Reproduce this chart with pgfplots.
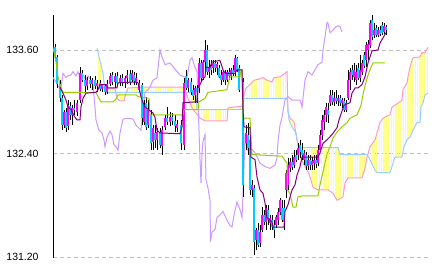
\documentclass[border=0pt]{standalone}
\usepackage{pgfplots}
\pgfplotsset{compat=1.18}
\usepackage{pgfplotstable}
\usepgfplotslibrary{fillbetween}
\usetikzlibrary{patterns.meta}
\usepackage{fontspec}
\setmainfont{Liberation Sans}
\definecolor{cup}{HTML}{FF00FF}
\definecolor{cdn}{HTML}{00CCFF}
\definecolor{tenkan}{HTML}{800080}
\definecolor{kijun}{HTML}{99CC00}
\definecolor{chikou}{HTML}{CC99FF}
\definecolor{spana}{HTML}{FF99CC}
\definecolor{spanb}{HTML}{99CCFF}
\definecolor{cloud}{HTML}{FFFF88}
\definecolor{gridc}{HTML}{C0C0C0}

\pgfplotstableread{
x o h l c
55 133.63 133.67 133.48 133.52
57 133.52 133.54 133.16 133.21
60 133.21 133.25 133.00 133.04
62 133.04 133.08 132.67 132.73
64 132.73 132.91 132.70 132.88
66 132.88 132.93 132.65 132.70
68 132.72 133.02 132.67 132.96
70 132.95 133.00 132.79 132.85
72 132.85 132.96 132.73 132.93
74 132.93 133.02 132.85 132.91
77 132.88 133.02 132.84 132.99
80 133.02 133.40 132.99 133.33
82 133.33 133.37 133.23 133.25
85 133.25 133.31 133.10 133.18
87 133.18 133.29 133.14 133.25
90 133.25 133.30 133.16 133.21
92 133.21 133.28 133.14 133.25
95 133.25 133.30 133.15 133.18
97 133.18 133.25 133.11 133.22
100 133.22 133.25 133.13 133.15
102 133.15 133.21 133.11 133.20
105 133.18 133.21 133.08 133.11
107 133.11 133.25 133.09 133.21
110 133.21 133.33 133.18 133.30
112 133.31 133.35 133.20 133.23
115 133.23 133.33 133.16 133.30
117 133.30 133.35 133.18 133.22
120 133.22 133.31 133.18 133.28
122 133.28 133.32 133.18 133.23
125 133.23 133.30 133.16 133.28
127 133.28 133.37 133.21 133.31
130 133.32 133.37 133.20 133.23
132 133.25 133.37 133.23 133.33
134 133.31 133.35 133.20 133.24
136 133.23 133.33 133.20 133.28
139 133.14 133.25 133.11 133.22
142 133.20 133.22 132.73 132.81
144 132.77 133.02 132.73 132.96
146 132.99 133.06 132.67 132.71
148 132.73 133.02 132.70 132.91
151 132.85 132.91 132.44 132.52
153 132.54 132.73 132.44 132.70
155 132.64 132.73 132.47 132.56
157 132.56 132.70 132.44 132.65
160 132.65 132.70 132.47 132.50
162 132.49 132.72 132.39 132.67
165 132.71 132.85 132.67 132.81
167 132.81 132.94 132.73 132.77
170 132.77 132.88 132.72 132.82
172 132.82 132.87 132.73 132.78
175 132.78 132.85 132.65 132.72
177 132.70 132.79 132.65 132.74
181 132.73 132.79 132.44 132.52
184 132.50 133.28 132.44 133.22
186 133.30 133.37 133.14 133.16
188 133.16 133.28 133.11 133.25
191 133.23 133.28 133.08 133.11
193 133.14 133.19 133.02 133.07
195 133.08 133.18 132.99 133.16
197 133.16 133.19 132.99 133.11
199 133.16 133.51 133.10 133.45
201 133.45 133.48 133.23 133.28
203 133.28 133.48 133.25 133.46
205 133.46 133.72 133.37 133.60
207 133.60 133.66 133.31 133.35
209 133.35 133.48 133.28 133.39
211 133.41 133.48 133.31 133.37
213 133.39 133.48 133.33 133.45
215 133.45 133.48 133.35 133.39
217 133.39 133.46 133.31 133.44
219 133.39 133.43 133.28 133.29
221 133.31 133.37 133.20 133.25
223 133.25 133.37 133.23 133.35
225 133.32 133.37 133.20 133.25
227 133.25 133.37 133.23 133.35
229 133.35 133.39 133.25 133.30
231 133.30 133.39 133.25 133.37
233 133.37 133.43 133.30 133.33
235 133.35 133.54 133.30 133.51
237 133.51 133.52 133.35 133.37
239 133.39 133.43 133.11 133.14
243 133.23 133.28 131.90 132.04
246 132.52 132.73 132.44 132.64
248 132.62 132.76 132.39 132.47
250 132.56 132.62 131.92 131.98
252 131.98 132.10 131.90 132.04
254 132.00 132.04 131.23 131.38
256 131.40 131.54 131.28 131.52
258 131.52 131.60 131.32 131.34
260 131.37 131.57 131.32 131.49
262 131.52 131.78 131.49 131.69
264 131.69 131.75 131.57 131.61
266 131.61 131.81 131.52 131.77
268 131.75 131.81 131.57 131.63
270 131.60 131.69 131.52 131.66
272 131.63 131.69 131.52 131.55
274 131.57 131.63 131.42 131.52
276 131.57 131.69 131.54 131.67
278 131.63 131.77 131.57 131.72
280 131.72 131.89 131.69 131.86
282 131.77 131.86 131.61 131.63
284 131.77 131.86 131.52 131.61
286 131.98 132.21 131.89 132.18
288 132.04 132.35 131.98 132.27
290 132.23 132.35 132.19 132.30
292 132.30 132.39 132.21 132.25
294 132.27 132.44 132.23 132.36
296 132.39 132.44 132.30 132.33
298 132.39 132.52 132.33 132.47
300 132.50 132.56 132.35 132.42
302 132.44 132.52 132.33 132.39
304 132.33 132.44 132.27 132.41
306 132.39 132.42 132.21 132.26
308 132.26 132.39 132.21 132.33
310 132.33 132.39 132.21 132.27
312 132.27 132.36 132.21 132.32
314 132.29 132.39 132.21 132.33
316 132.33 132.39 132.23 132.28
318 132.29 132.50 132.26 132.44
320 132.44 132.67 132.42 132.62
322 132.62 132.85 132.56 132.79
324 132.77 132.91 132.67 132.85
326 132.85 132.99 132.77 132.94
328 132.91 132.99 132.76 132.85
330 132.99 133.14 132.95 133.08
332 133.08 133.14 132.96 133.00
334 133.00 133.11 132.95 133.04
336 133.04 133.14 132.97 133.01
338 133.01 133.08 132.95 133.04
340 133.04 133.08 132.95 132.99
342 132.99 133.04 132.93 133.02
344 133.01 133.04 132.88 132.91
346 132.91 133.02 132.88 132.99
348 133.04 133.37 133.02 133.25
350 133.25 133.39 133.14 133.35
352 133.37 133.43 133.25 133.31
354 133.29 133.45 133.23 133.37
356 133.25 133.43 133.20 133.35
358 133.39 133.45 133.25 133.28
360 133.28 133.54 133.23 133.37
362 133.35 133.48 133.31 133.45
364 133.54 133.58 133.39 133.41
366 133.48 133.69 133.40 133.66
368 133.60 133.72 133.48 133.67
370 133.66 133.95 133.62 133.91
372 133.95 134.00 133.72 133.75
374 133.77 133.91 133.74 133.83
376 133.85 133.89 133.75 133.77
378 133.77 133.87 133.75 133.83
380 133.83 133.88 133.76 133.79
382 133.89 133.92 133.77 133.80
384 133.81 133.91 133.79 133.88
386 133.87 133.89 133.77 133.83
}\candles

\begin{document}
\begin{tikzpicture}
\begin{axis}[
  at={(0,0)}, anchor=south west,
  scale only axis, width=377bp, height=243bp,
  xmin=53, xmax=430, ymin=131.192, ymax=134.005,
  axis x line=none, axis y line*=left,
  axis line style={black, line width=0.9bp},
  ytick={131.2,132.4,133.6},
  major tick length=0pt,
  ymajorgrids,
  grid style={gridc, line width=0.9bp, dash pattern=on 4bp off 3bp},
  /pgf/number format/assume math mode=true,
  yticklabel style={font=\fontsize{10.5}{12}\selectfont, xshift=-11bp,
    /pgf/number format/.cd, fixed, fixed zerofill, precision=2},
]
% Senkou span A and B (cloud)
\addplot [name path=sa, draw=none, forget plot] coordinates {
(97,133.20) (105,133.16) (115,133.15) (117,133.04) (120,133.01) (124,133.01) (126,133.10) (128,133.16) (145,133.17) (183,133.17) (185,133.14) (188,133.04) (192,132.93) (196,132.87) (200,132.81) (205,132.78) (227,132.78) (228,132.93) (242,132.95) (244,133.08) (246,133.16) (250,133.20) (254,133.25) (258,133.26) (263,133.28) (267,133.25) (272,133.23) (274,133.28) (280,133.29) (285,133.33) (287,133.35) (288,132.88) (290,132.81) (294,132.77) (296,132.62) (299,132.44) (301,132.35) (303,132.29) (305,132.25) (308,132.19) (310,132.13) (313,132.01) (318,131.98) (328,131.98) (333,131.94) (337,131.86) (343,131.90) (345,132.06) (348,132.12) (362,132.12) (365,132.23) (367,132.36) (370,132.48) (375,132.56) (377,132.64) (380,132.76) (383,132.81) (390,132.85) (392,132.94) (400,133.00) (402,133.02) (403,133.14) (407,133.22) (408,133.29) (410,133.40) (412,133.48) (413,133.51) (420,133.52) (422,133.57) (425,133.57) (428,133.63)
};
\addplot [name path=sb, draw=none, forget plot] coordinates {
(97,133.62) (103,133.33) (105,133.14) (106,133.11) (196,133.11) (197,132.91) (243,132.91) (244,133.04) (287,133.04) (289,132.79) (292,132.71) (296,132.64) (298,132.50) (300,132.47) (338,132.47) (340,132.39) (367,132.39) (370,132.33) (375,132.21) (377,132.18) (390,132.18) (393,132.29) (395,132.36) (402,132.36) (404,132.48) (407,132.56) (410,132.59) (413,132.67) (417,132.76) (420,132.76) (421,132.94) (423,132.99) (425,133.08) (428,133.10)
};
\addplot [draw=none, pattern={Lines[angle=90, distance=2.4bp, line width=1.2bp]}, pattern color=cloud, forget plot] fill between [of=sa and sb];
\addplot [spana, line width=1bp, forget plot] coordinates {
(97,133.20) (105,133.16) (115,133.15) (117,133.04) (120,133.01) (124,133.01) (126,133.10) (128,133.16) (145,133.17) (183,133.17) (185,133.14) (188,133.04) (192,132.93) (196,132.87) (200,132.81) (205,132.78) (227,132.78) (228,132.93) (242,132.95) (244,133.08) (246,133.16) (250,133.20) (254,133.25) (258,133.26) (263,133.28) (267,133.25) (272,133.23) (274,133.28) (280,133.29) (285,133.33) (287,133.35) (288,132.88) (290,132.81) (294,132.77) (296,132.62) (299,132.44) (301,132.35) (303,132.29) (305,132.25) (308,132.19) (310,132.13) (313,132.01) (318,131.98) (328,131.98) (333,131.94) (337,131.86) (343,131.90) (345,132.06) (348,132.12) (362,132.12) (365,132.23) (367,132.36) (370,132.48) (375,132.56) (377,132.64) (380,132.76) (383,132.81) (390,132.85) (392,132.94) (400,133.00) (402,133.02) (403,133.14) (407,133.22) (408,133.29) (410,133.40) (412,133.48) (413,133.51) (420,133.52) (422,133.57) (425,133.57) (428,133.63)
};
\addplot [spanb, line width=1bp, forget plot] coordinates {
(97,133.62) (103,133.33) (105,133.14) (106,133.11) (196,133.11) (197,132.91) (243,132.91) (244,133.04) (287,133.04) (289,132.79) (292,132.71) (296,132.64) (298,132.50) (300,132.47) (338,132.47) (340,132.39) (367,132.39) (370,132.33) (375,132.21) (377,132.18) (390,132.18) (393,132.29) (395,132.36) (402,132.36) (404,132.48) (407,132.56) (410,132.59) (413,132.67) (417,132.76) (420,132.76) (421,132.94) (423,132.99) (425,133.08) (428,133.10)
};
% Chikou span
\addplot [chikou, line width=1bp, forget plot] coordinates {
(53,133.28) (56,133.23) (58,133.18) (61,133.16) (63,133.33) (66,133.28) (68,133.30) (71,133.31) (73,133.35) (76,133.30) (78,133.35) (80,133.28) (83,133.31) (86,133.25) (88,133.30) (91,133.25) (93,133.21) (95,132.94) (96,132.79) (99,132.67) (102,132.64) (104,132.56) (105,132.48) (107,132.59) (110,132.66) (112,132.62) (114,132.50) (116,132.48) (118,132.44) (120,132.64) (123,132.80) (128,132.81) (133,132.80) (136,132.73) (141,132.67) (143,132.91) (145,133.11) (148,133.14) (150,133.17) (153,133.25) (157,133.28) (160,133.60) (162,133.52) (165,133.43) (170,133.45) (177,133.35) (180,133.31) (184,133.29) (187,133.28) (190,133.48) (192,133.51) (195,133.40) (197,133.35) (198,133.02) (200,132.33) (201,132.06) (202,132.39) (203,132.54) (205,132.62) (206,132.10) (208,132.00) (210,131.86) (210.5,131.38) (212,131.49) (215,131.52) (217,131.66) (220,131.69) (223,131.73) (227,131.63) (230,131.57) (232,131.55) (234,131.69) (237,131.84) (240,131.75) (242,131.66) (243,131.92) (244,132.23) (245,132.62) (247,132.44) (250,132.47) (253,132.44) (256,132.39) (260,132.29) (265,132.25) (270,132.23) (275,132.27) (277,132.35) (278,132.54) (280,132.73) (282,132.82) (285,133.02) (288,133.06) (292,133.02) (300,133.02) (302,132.94) (305,133.25) (308,133.35) (312,133.31) (315,133.37) (318,133.43) (322,133.46) (323,133.60) (325,133.75) (327,133.92) (328,133.91) (330,133.80) (333,133.83) (336,133.87) (338,133.88) (340,133.87) (342,133.81)
};
% Candles: wicks, rising bodies, falling bodies
\addplot [draw=none, mark=none, forget plot,
  error bars/.cd, y dir=plus, y explicit, error mark=none,
  error bar style={draw=black, line width=1bp}]
  table [x=x, y=l, y error expr=\thisrow{h}-\thisrow{l}] {\candles};
\addplot [draw=none, mark=none, forget plot,
  error bars/.cd, y dir=plus, y explicit, error mark=none,
  error bar style={draw=cup, line width=2.5bp}]
  table [x=x, y=o, y error expr={max(\thisrow{c}-\thisrow{o},0)}] {\candles};
\addplot [draw=none, mark=none, forget plot,
  error bars/.cd, y dir=plus, y explicit, error mark=none,
  error bar style={draw=cdn, line width=2.5bp}]
  table [x=x, y=c, y error expr={max(\thisrow{o}-\thisrow{c},0)}] {\candles};
% Kijun
\addplot [kijun, line width=1bp, forget plot] coordinates {
(53,133.63) (55,133.52) (56,133.46) (58,133.29) (60,133.20) (61,133.16) (63,133.11) (96,133.11) (98,133.06) (101,133.00) (113,133.00) (116,133.03) (118,133.08) (136,133.08) (138,133.06) (149,133.04) (150,132.85) (183,132.85) (184,132.91) (198,132.91) (199,133.00) (205,133.04) (208,133.11) (227,133.14) (229,133.25) (230,133.29) (240,133.29) (241,133.37) (242,133.37) (243,132.81) (250,132.81) (252,132.39) (282,132.37) (287,132.29) (287.5,131.98) (290,131.94) (293,131.78) (296,131.78) (298,131.90) (302,131.91) (318,131.91) (320,132.04) (323,132.19) (327,132.39) (330,132.48) (333,132.58) (337,132.65) (342,132.71) (347,132.76) (350,132.81) (357,132.85) (361,132.96) (364,133.14) (368,133.31) (371,133.40) (373,133.45) (385,133.45)
};
% Tenkan
\addplot [tenkan, line width=1bp, forget plot] coordinates {
(60,133.17) (63,133.10) (66,133.02) (68,132.94) (71,132.91) (75,132.82) (77,132.79) (80,132.79) (81,132.94) (83,133.04) (86,133.10) (96,133.11) (98,133.14) (100,133.20) (106,133.20) (108,133.16) (117,133.16) (118,133.22) (135,133.23) (138,133.22) (141,133.06) (143,132.99) (145,132.94) (153,132.87) (155,132.82) (157,132.67) (160,132.64) (180,132.63) (182,132.71) (183,132.99) (197,133.00) (198,133.16) (200,133.20) (202,133.25) (205,133.29) (206,133.40) (210,133.40) (212,133.46) (220,133.48) (223,133.37) (225,133.33) (235,133.33) (237,133.37) (242,133.37) (243,132.91) (244,132.71) (250,132.70) (251,132.36) (255,132.33) (257,132.13) (260,131.98) (263,131.94) (265,131.83) (267,131.66) (272,131.61) (273,131.55) (284,131.55) (285,131.73) (288,131.81) (292,131.98) (295,132.04) (297,132.15) (300,132.25) (302,132.36) (318,132.36) (320,132.41) (323,132.52) (327,132.56) (332,132.62) (337,132.70) (339,132.79) (344,132.96) (350,132.99) (352,133.10) (355,133.16) (358,133.16) (362,133.20) (365,133.29) (368,133.45) (372,133.59) (378,133.60) (380,133.68) (383,133.74) (386,133.80)
};
\end{axis}
\path (-53bp,-13bp) rectangle (381bp,258bp);
\end{tikzpicture}
\end{document}
